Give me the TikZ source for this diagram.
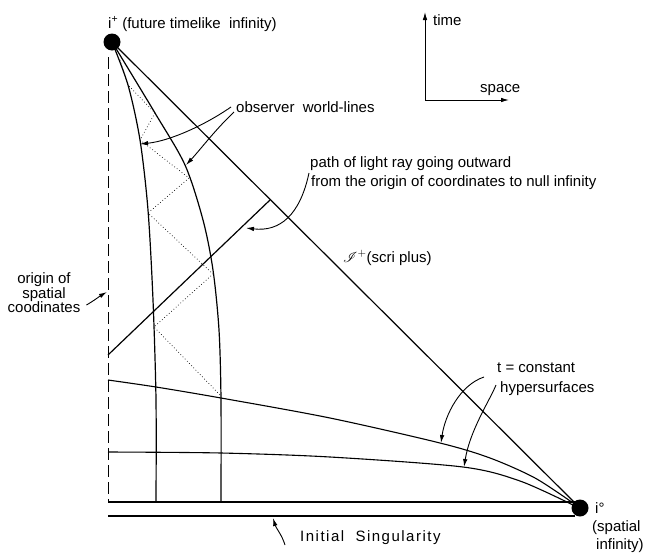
\documentclass[tikz,border=0pt]{standalone}
\usepackage{fontspec}
\setmainfont{Liberation Sans}
\newfontfamily\handfont[LetterSpace=10]{Liberation Sans}
\usepackage{mathrsfs}
\usetikzlibrary{arrows.meta}
\begin{document}
\begin{tikzpicture}[x=1pt,y=-1pt,font=\fontsize{15}{17}\selectfont,
  lbl/.style={inner sep=0pt,anchor=base west},
  dot/.style={circle,fill,inner sep=0pt,minimum size=17pt},
  wl/.style={line width=1.2pt},
  bounce/.style={line width=0.7pt,dash pattern=on 0.7pt off 2.4pt},
  ptr/.style={line width=0.9pt,-{Latex[length=8pt,width=4.5pt]}}]
\useasboundingbox (0,0) rectangle (648,552);
% infinities
\node[dot] (iplus) at (112,42) {};
\node[dot] (izero) at (580,508) {};
\coordinate (origtop) at (108,57);
\coordinate (origbot) at (108,502);
\coordinate (singl) at (108,516);
\coordinate (singr) at (575,516);
\draw[line width=1pt,dash pattern=on 12pt off 5pt] (origtop) -- (origbot);
\draw[wl] (origbot) -- (origbot -| izero);
\draw[wl] (singl) -- (singr);
\draw[wl] (iplus.center) -- (izero.center);
% observer world-lines
\draw[wl] plot[smooth] coordinates {(112,42) (128,85) (140,140) (148,210) (153,300) (156,400) (156,502)};
\draw[wl] plot[smooth] coordinates {(112,42) (155,113) (185,165) (203,220) (213,270) (219,330) (221,400) (221,502)};
% light bouncing between the observers
\draw[bounce] (120,60) -- (128,85) -- (155,113) -- (140,140) -- (189,178) -- (148,213)
  -- (213,274) -- (154,327) -- (221,396);
% outgoing light ray
\coordinate (raystart) at (108,355);
\coordinate (rayend) at (270,200);
\draw[wl] (raystart) -- (rayend);
% t = constant hypersurfaces
\draw[line width=1.1pt] plot[smooth] coordinates {(108,380) (156,387) (221,398) (330,418) (440,443) (490,458) (535,478) (573,503)};
\draw[line width=1.1pt] plot[smooth] coordinates {(108,452) (221,453) (330,457) (463,467) (520,481) (573,505)};
% axes
\coordinate (ax) at (425,100);
\coordinate (tup) at (425,12);
\coordinate (sright) at (509,100);
\draw[ptr] (ax) -- (tup);
\draw[ptr] (ax) -- (sright);
\node[lbl] (timel) at (433,25) {time};
\node[lbl] (spacel) at (480,92) {space};
% labels
\node[lbl] (iplusl) at (108,28) {i\textsuperscript{+} (future timelike \ infinity)};
\node[lbl] (obs) at (236,112) {observer \ world-lines};
\node[lbl] (path) at (310,167) {path of light ray going outward};
\node[lbl] (from) at (311,186) {from the origin of coordinates to null infinity};
\node[lbl] (scri) at (343,262) {$\mathscr{I}^{+}$(scri plus)};
\node[inner sep=0pt,align=center,font=\fontsize{15}{14.5}\selectfont] (orig) at (44,293) {origin of\\spatial\\coodinates};
\node[lbl] (tconst) at (497,372) {t = constant};
\node[lbl] (hyp) at (500,392) {hypersurfaces};
\node[lbl] (izerol) at (595,513) {i°};
\node[lbl] (spat) at (592,531) {(spatial};
\node[lbl] (spinf) at (596,549) {infinity)};
\node[lbl,font=\handfont\fontsize{15}{17}\selectfont] (init) at (300,541) {Initial \ Singularity};
% pointers
\coordinate (wlA) at (140,144);
\coordinate (wlB) at (186,165);
\coordinate (rayhit) at (246,228);
\coordinate (orighit) at (107,292);
\coordinate (hypA) at (441,443);
\coordinate (hypB) at (464,467);
\coordinate (singhit) at (273,518);
\draw[ptr] ([shift={(-5,-5)}]obs.base west) .. controls (205,125) and (170,141) .. (wlA);
\draw[ptr] ([shift={(-2,0)}]obs.base west) .. controls (215,130) and (200,150) .. (wlB);
\draw[ptr] ([shift={(-2,-13)}]from.base west) .. controls (300,215) and (280,232) .. (rayhit);
\draw[ptr] ([shift={(6,12)}]orig.east) .. controls (95,300) and (100,296) .. (orighit);
\draw[ptr] ([shift={(-16,-15)}]hyp.base west) .. controls (460,385) and (445,415) .. (hypA);
\draw[ptr] ([shift={(-4,-7)}]hyp.base west) .. controls (490,400) and (470,430) .. (hypB);
\draw[ptr] ([shift={(-15,4)}]init.base west) .. controls (282,535) and (276,528) .. (singhit);
\end{tikzpicture}
\end{document}
